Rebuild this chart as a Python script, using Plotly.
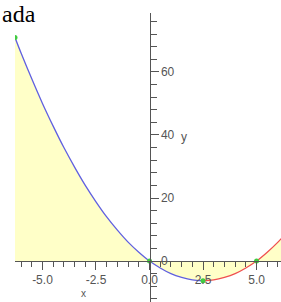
import plotly.graph_objects as go

# curve samples (decreasing part, blue)
x_blue = [-6.283, -6.0, -5.5, -5.0, -4.5, -4.0, -3.5, -3.0, -2.5, -2.0, -1.5, -1.0, -0.5, 0.0, 0.5, 1.0, 1.5, 2.0, 2.5]
y_blue = [70.9, 66.0, 57.8, 50.0, 42.8, 36.0, 29.8, 24.0, 18.8, 14.0, 9.8, 6.0, 2.8, 0.0, -2.2, -4.0, -5.2, -6.0, -6.25]
# increasing part, red
x_red = [2.5, 3.0, 3.5, 4.0, 4.5, 5.0, 5.5, 6.0, 6.283]
y_red = [-6.25, -6.0, -5.2, -4.0, -2.2, 0.0, 2.8, 6.0, 8.1]
# marked points
x_pts = [-6.283, 0.0, 2.5, 5.0, 6.283]
y_pts = [70.9, 0.0, -6.25, 0.0, 8.1]

x_tickvals = [-5.0, -2.5, 0.0, 2.5, 5.0]
x_ticktext = ["-5.0", "-2.5", "0.0", "2.5", "5.0"]
y_tickvals = [0, 20, 40, 60]
y_ticktext = ["0", "20", "40", "60"]

title_text = "ada"
x_label = "x"
y_label = "y"

XR = [-6.283, 6.142]
YR = [-13.0, 78.7]

W, H = 281, 302
ML, MT = 15, 13

axis_col = "#555555"
fill_col = "rgba(255,255,200,1)"

fig = go.Figure()
fig.add_trace(go.Scatter(x=x_blue, y=y_blue, mode="lines", fill="tozeroy",
                         fillcolor=fill_col, line=dict(color="#6060e0", width=1.3, shape="spline"),
                         hoverinfo="skip"))
fig.add_trace(go.Scatter(x=x_red, y=y_red, mode="lines", fill="tozeroy",
                         fillcolor=fill_col, line=dict(color="#f05050", width=1.3, shape="spline"),
                         hoverinfo="skip"))
fig.add_trace(go.Scatter(x=x_pts, y=y_pts, mode="markers",
                         marker=dict(color="#40cc40", size=5), hoverinfo="skip"))

xpos = (0 - YR[0]) / (YR[1] - YR[0])
ypos = (0 - XR[0]) / (XR[1] - XR[0])

fig.update_layout(
    width=W, height=H,
    margin=dict(l=ML, r=0, t=MT, b=0),
    paper_bgcolor="white", plot_bgcolor="white",
    showlegend=False,
    font=dict(family="Liberation Sans, Arial, sans-serif", size=12, color=axis_col),
    xaxis=dict(range=XR, anchor="free", position=xpos, showgrid=False, zeroline=False,
               showline=True, linecolor=axis_col, linewidth=1,
               ticks="outside", ticklen=8, tickcolor=axis_col, tickwidth=1,
               tickvals=x_tickvals, ticktext=x_ticktext,
               minor=dict(ticks="outside", dtick=0.5, tick0=0, ticklen=5, tickcolor=axis_col),
               tickfont=dict(size=12, color=axis_col)),
    yaxis=dict(range=YR, anchor="free", position=ypos, side="right", showgrid=False, zeroline=False,
               showline=True, linecolor=axis_col, linewidth=1,
               ticks="outside", ticklen=8, tickcolor=axis_col, tickwidth=1,
               tickvals=y_tickvals, ticktext=y_ticktext,
               minor=dict(ticks="outside", dtick=4, tick0=0, ticklen=6, tickcolor=axis_col),
               tickfont=dict(size=12, color=axis_col)),
    annotations=[
        dict(text=title_text, x=-ML / (W - ML), y=1 + (MT + 1) / (H - MT),
             xref="paper", yref="paper", showarrow=False, xanchor="left", yanchor="top",
             font=dict(family="Liberation Serif, Times New Roman, serif", size=24, color="black")),
        dict(text=y_label, x=1.4, y=39.5, xref="x", yref="y", showarrow=False,
             xanchor="left", yanchor="middle", font=dict(size=12, color=axis_col)),
        dict(text=x_label, x=-3.1, y=-10.4, xref="x", yref="y", showarrow=False,
             xanchor="center", yanchor="middle", font=dict(size=10, color=axis_col)),
    ],
)

fig.write_html("out.html",
               config={"displayModeBar": False},
               post_script="document.body.style.margin='0';document.body.style.overflow='hidden';")
